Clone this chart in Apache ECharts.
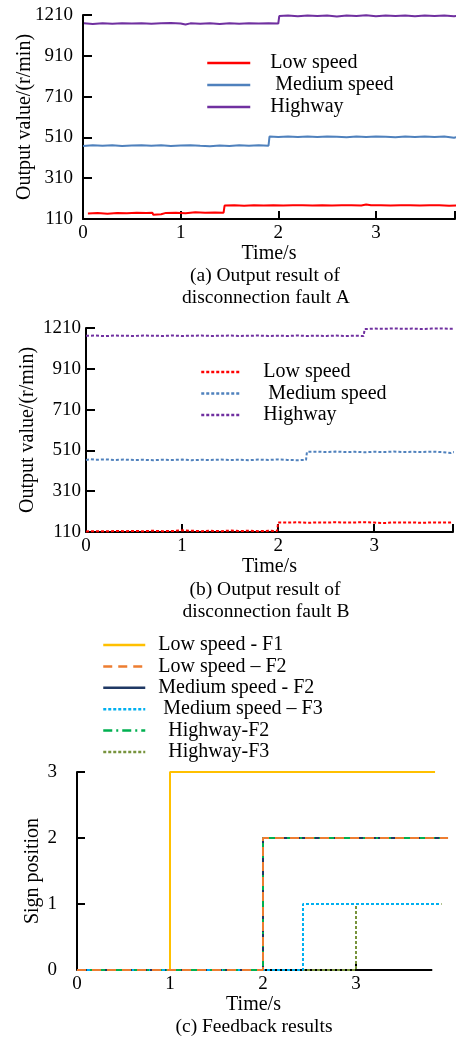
<!DOCTYPE html>
<html>
<head>
<meta charset="utf-8">
<script src="https://cdn.jsdelivr.net/npm/echarts@6/dist/echarts.min.js"></script>
<style>
  html, body { margin: 0; padding: 0; background: #fff; }
  #chart { width: 463px; height: 1039px; }
</style>
</head>
<body>
<div id="chart"></div>
<script>
// tick labels
const xTicks = ['0', '1', '2', '3']
const yTicksAB = ['110', '310', '510', '710', '910', '1210']
const seriesNamesAB = ['Low speed', ' Medium speed', 'Highway']
const seriesNamesC = ['Low speed - F1', 'Low speed \u2013 F2', 'Medium speed - F2', ' Medium speed \u2013 F3', '  Highway-F2', '  Highway-F3']

// (a) disconnection fault A, [time, value]
const lowA = [[0.05,137],[0.15,139],[0.25,136],[0.35,140],[0.45,138],[0.55,141],[0.65,139],[0.71,141],[0.72,131],[0.8,133],[0.85,140],[0.95,141],[1.05,138],[1.15,143],[1.25,141],[1.35,142],[1.44,141],[1.45,176],[1.55,177],[1.65,175],[1.75,178],[1.85,176],[1.95,177],[2.05,176],[2.15,178],[2.25,177],[2.35,176],[2.45,178],[2.55,176],[2.65,177],[2.75,178],[2.85,176],[2.9,181],[2.95,177],[3.05,178],[3.15,176],[3.25,177],[3.35,178],[3.45,176],[3.55,177],[3.65,178],[3.75,175],[3.83,177]]
const medA = [[0,468],[0.1,471],[0.2,469],[0.3,471],[0.4,468],[0.5,470],[0.6,472],[0.7,469],[0.8,471],[0.9,468],[1.0,470],[1.1,472],[1.2,469],[1.3,467],[1.4,470],[1.5,468],[1.6,471],[1.7,469],[1.8,471],[1.9,469],[1.91,514],[2.0,512],[2.1,515],[2.2,512],[2.3,514],[2.4,512],[2.5,515],[2.6,513],[2.7,511],[2.8,514],[2.9,512],[3.0,515],[3.1,513],[3.2,511],[3.3,514],[3.4,512],[3.5,514],[3.6,512],[3.7,514],[3.8,508],[3.84,514]]
const highA = [[0.01,1069],[0.1,1066],[0.2,1070],[0.3,1067],[0.4,1070],[0.5,1068],[0.6,1070],[0.7,1067],[0.8,1069],[0.9,1071],[1.0,1068],[1.05,1063],[1.1,1069],[1.2,1067],[1.3,1070],[1.4,1066],[1.5,1069],[1.6,1067],[1.7,1070],[1.8,1068],[1.9,1069],[2.0,1068],[2.01,1105],[2.1,1108],[2.2,1104],[2.3,1107],[2.4,1105],[2.5,1108],[2.6,1103],[2.7,1107],[2.8,1105],[2.9,1109],[3.0,1104],[3.1,1107],[3.2,1105],[3.3,1108],[3.4,1104],[3.5,1107],[3.6,1105],[3.7,1108],[3.8,1104],[3.84,1107]]

// (b) disconnection fault B
const lowB = [[0,113],[0.1,114],[0.2,113],[0.3,115],[0.4,114],[0.5,115],[0.6,114],[0.7,116],[0.8,114],[0.9,115],[1.0,118],[1.1,116],[1.2,114],[1.3,116],[1.4,114],[1.5,117],[1.6,115],[1.7,116],[1.8,114],[1.9,116],[1.99,115],[2.0,157],[2.1,156],[2.2,158],[2.3,155],[2.4,157],[2.5,156],[2.6,158],[2.7,156],[2.8,157],[2.9,158],[3.0,156],[3.1,154],[3.2,157],[3.3,156],[3.4,157],[3.5,155],[3.6,157],[3.7,156],[3.8,157],[3.82,155]]
const medB = [[0,463],[0.05,467],[0.1,464],[0.2,466],[0.3,463],[0.4,465],[0.5,463],[0.6,464],[0.7,462],[0.8,464],[0.9,463],[1.0,465],[1.1,462],[1.2,464],[1.3,463],[1.4,465],[1.5,463],[1.6,464],[1.7,462],[1.8,465],[1.9,463],[2.0,466],[2.1,463],[2.2,462],[2.29,463],[2.3,503],[2.4,504],[2.5,502],[2.6,504],[2.7,502],[2.8,503],[2.9,501],[3.0,503],[3.1,502],[3.2,504],[3.3,502],[3.4,503],[3.5,502],[3.6,504],[3.7,502],[3.8,497],[3.84,503]]
const highB = [[0,1072],[0.1,1073],[0.2,1070],[0.3,1073],[0.4,1072],[0.5,1071],[0.6,1073],[0.7,1072],[0.8,1071],[0.9,1073],[1.0,1071],[1.1,1072],[1.2,1073],[1.3,1071],[1.4,1072],[1.5,1073],[1.6,1071],[1.7,1072],[1.8,1073],[1.9,1071],[2.0,1072],[2.1,1071],[2.2,1073],[2.3,1071],[2.4,1072],[2.5,1071],[2.6,1073],[2.7,1071],[2.8,1072],[2.89,1071],[2.9,1105],[3.0,1107],[3.1,1106],[3.2,1108],[3.3,1106],[3.4,1107],[3.5,1105],[3.6,1107],[3.7,1108],[3.8,1106],[3.84,1107]]

// (c) feedback results, sign position
const lowF1 = [[0,0],[1,0],[1,3],[3.85,3]]
const lowF2 = [[0,0],[2,0],[2,2],[3.99,2]]
const medF2 = [[0,0],[2,0],[2,2],[3.95,2]]
const medF3 = [[0,0],[2.43,0],[2.43,1],[3.9,1]]
const highF2 = [[0,0],[2,0],[2,2],[3.99,2]]
const highF3 = [[0,0],[3,0],[3,1],[3.92,1]]
// (c) time axis is drawn only up to here, the curves run past it
const axisEndC = 3.82

const FONT = 'Liberation Serif'
const tickTxt = { fontFamily: FONT, fontSize: 19, color: '#000' }
const txt = { fontFamily: FONT, fontSize: 20, color: '#000' }

const xAxisBase = (gridIndex, max) => ({
    type: 'value',
    gridIndex,
    min: 0,
    max,
    interval: 1,
    name: 'Time/s',
    nameLocation: 'middle',
    nameGap: 22,
    nameTextStyle: txt,
    axisLine: { lineStyle: { color: '#000', width: 2 } },
    axisTick: { inside: true, length: 8, lineStyle: { color: '#000', width: 2 } },
    axisLabel: { ...tickTxt, margin: 5, formatter: v => xTicks[v] ?? '' },
    splitLine: { show: false }
})

const yAxisAB = (gridIndex, nameGap, margin) => ({
    type: 'value',
    gridIndex,
    min: 110,
    max: 1110,
    interval: 200,
    name: 'Output value/(r/min)',
    nameLocation: 'middle',
    nameGap,
    nameMoveOverlap: false,
    nameTextStyle: txt,
    axisLine: { lineStyle: { color: '#000', width: 2 } },
    axisTick: { inside: true, length: 9, lineStyle: { color: '#000', width: 2 } },
    axisLabel: { ...tickTxt, margin, formatter: v => yTicksAB[Math.round((v - 110) / 200)] },
    splitLine: { show: false }
})

const colorsAB = ['#FF0000', '#4F81BD', '#7030A0']
const lineSeries = (name, data, color, idx, type) => ({
    name,
    type: 'line',
    xAxisIndex: idx,
    yAxisIndex: idx,
    data,
    symbol: 'none',
    clip: false,
    lineStyle: { color, width: 2, type },
    itemStyle: { color }
})

const legendBase = (names, left, top, width, pad, gap) => ({
    data: names,
    orient: 'vertical',
    left,
    top,
    itemWidth: width,
    itemHeight: 14,
    itemGap: gap,
    itemStyle: { opacity: 0 },
    lineStyle: { width: 2.5 },
    textStyle: { ...txt, lineHeight: 21, padding: [0, 0, 0, pad] }
})

const cStyles = [
    { color: '#FFC000', type: 'solid' },
    { color: '#ED7D31', type: [9, 6] },
    { color: '#1F3864', type: 'solid' },
    { color: '#00B0F0', type: [3, 2] },
    { color: '#00B050', type: [9, 4, 2, 4] },
    { color: '#77933C', type: [3, 2] }
]
const cData = [lowF1, lowF2, medF2, medF3, highF2, highF3]
// draw order: yellow, navy, olive, cyan, green, orange on top
const cOrder = [0, 2, 5, 3, 4, 1]

const xAxisC = {
    ...xAxisBase(2, 4),
    nameTextStyle: { ...txt, padding: [0, 19, 0, 0] },
    axisLine: { show: false },
    axisTick: { inside: true, length: 8, customValues: [0, 1, 2, 3], lineStyle: { color: '#000', width: 2 } },
    axisLabel: { ...tickTxt, margin: 5, customValues: [0, 1, 2, 3] }
}

const chart = echarts.init(document.getElementById('chart'))
chart.setOption({
    animation: false,
    grid: [
        { left: 83, top: 15, width: 372, height: 204 },
        { left: 86, top: 328, width: 367, height: 204 },
        { left: 77, top: 772, width: 372, height: 198 }
    ],
    xAxis: [xAxisBase(0, 3.81), xAxisBase(1, 3.82), xAxisC],
    yAxis: [
        yAxisAB(0, 48, 10),
        yAxisAB(1, 48, 5),
        {
            type: 'value',
            gridIndex: 2,
            min: 0,
            max: 3,
            interval: 1,
            name: 'Sign position',
            nameLocation: 'middle',
            nameGap: 34,
            nameMoveOverlap: false,
            nameTextStyle: txt,
            axisLine: { lineStyle: { color: '#000', width: 2 } },
            axisTick: { inside: true, length: 8, lineStyle: { color: '#000', width: 2 } },
            axisLabel: { ...tickTxt, margin: 20 },
            splitLine: { show: false }
        }
    ],
    legend: [
        legendBase(seriesNamesAB, 201, 47.5, 43, 15, 1),
        legendBase(seriesNamesAB.map(n => n + ' '), 195, 356.5, 39, 18, 0.5),
        legendBase(seriesNamesC, 97, 629.5, 42, 8, 0.4)
    ],
    series: [
        lineSeries(seriesNamesAB[0], lowA, colorsAB[0], 0, 'solid'),
        lineSeries(seriesNamesAB[1], medA, colorsAB[1], 0, 'solid'),
        lineSeries(seriesNamesAB[2], highA, colorsAB[2], 0, 'solid'),
        lineSeries(seriesNamesAB[0] + ' ', lowB, colorsAB[0], 1, [3, 2]),
        lineSeries(seriesNamesAB[1] + ' ', medB, colorsAB[1], 1, [3, 2]),
        lineSeries(seriesNamesAB[2] + ' ', highB, colorsAB[2], 1, [3, 2]),
        // time axis line of (c), under the curves
        lineSeries('axisC', [[0, 0], [axisEndC, 0]], '#000', 2, 'solid'),
        ...cOrder.map(i => lineSeries(seriesNamesC[i], cData[i], cStyles[i].color, 2, cStyles[i].type))
    ],
    graphic: [
        ['(a) Output result of', 265, 276],
        ['disconnection fault A', 266, 298],
        ['(b) Output result of', 265, 590],
        ['disconnection fault B', 266, 612],
        ['(c) Feedback results', 254, 1027]
    ].map(([text, x, y]) => ({
        type: 'text',
        x,
        y,
        style: { text, font: '19.5px "Liberation Serif"', fill: '#000', align: 'center', verticalAlign: 'middle' }
    }))
})
</script>
</body>
</html>
